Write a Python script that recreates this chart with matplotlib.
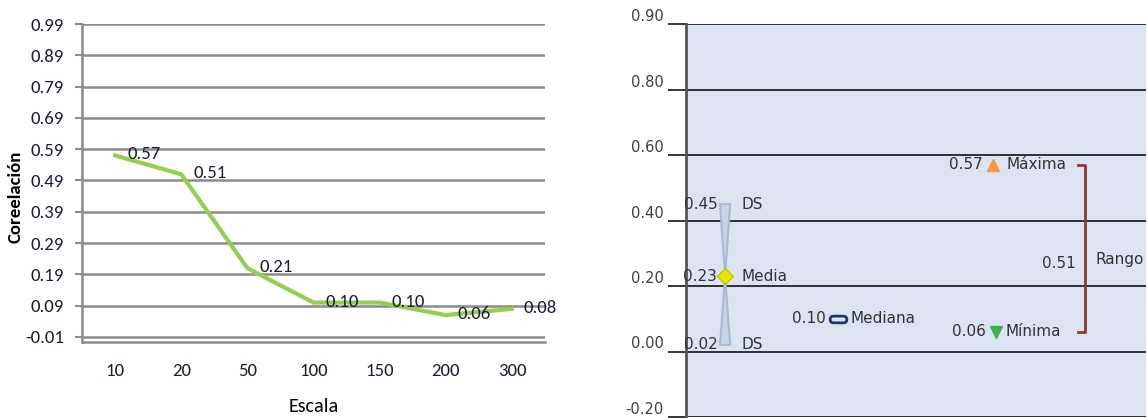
import numpy as np
import matplotlib.pyplot as plt
from matplotlib.patches import FancyBboxPatch, Polygon
from matplotlib.transforms import offset_copy
from matplotlib import font_manager

# Data
escala = ["10", "20", "50", "100", "150", "200", "300"]
correlacion = [0.57, 0.51, 0.21, 0.10, 0.10, 0.06, 0.08]
left_ticks = [-0.01, 0.09, 0.19, 0.29, 0.39, 0.49, 0.59, 0.69, 0.79, 0.89, 0.99]

ds_alta = 0.45
media = 0.23
ds_baja = 0.02
mediana = 0.10
maxima = 0.57
minima = 0.06
rango = 0.51
right_ticks = [-0.2, 0.0, 0.2, 0.4, 0.6, 0.8, 1.0]
right_labels = ["-0.20", "0.00", "0.20", "0.40", "0.60", "0.80", "0.90"]

# Calibri-like narrow font if there is one
installed = set(f.name for f in font_manager.fontManager.ttflist)
narrow = [f for f in ["Carlito", "Liberation Sans Narrow", "Roboto Condensed",
                      "Open Sans Condensed", "DejaVu Sans"] if f in installed] + ["DejaVu Sans"]
txt_dark = "#1c1c30"
lfs = 13.5

fig = plt.figure(figsize=(11.48, 4.18), dpi=100)

################# Left chart ######################################
ax1 = fig.add_axes([82/1148, 76/418, 463/1148, 318/418])
x = np.arange(len(escala))
ax1.plot(x, correlacion, color="#92d050", lw=3, solid_joinstyle="miter")
for xi, v in zip(x, correlacion):
    ax1.text(xi, v, "%.2f" % v, transform=offset_copy(ax1.transData, fig, 12, 1, units="dots"),
             ha="left", va="center", fontsize=lfs, family=narrow, color=txt_dark)

ax1.set_xlim(-0.5, len(escala) - 0.5)
ax1.set_ylim(-0.026, 0.99)
ax1.set_yticks(left_ticks)
ax1.set_yticklabels(["%.2f" % t for t in left_ticks], family=narrow, fontsize=lfs, color=txt_dark)
ax1.set_xticks(x)
ax1.set_xticklabels(escala, family=narrow, fontsize=lfs, color=txt_dark)
ax1.grid(axis="y", color="#8c8c8c", lw=1.8)
ax1.set_axisbelow(True)
ax1.tick_params(axis="y", length=5, width=1.5, color="#8c8c8c", pad=8)
ax1.tick_params(axis="x", length=0, pad=15)
for s in ["top", "right"]:
    ax1.spines[s].set_visible(False)
ax1.spines["left"].set_color("#8c8c8c")
ax1.spines["left"].set_linewidth(1.8)
ax1.spines["bottom"].set_color("#8c8c8c")
ax1.spines["bottom"].set_linewidth(1.8)
ax1.set_ylabel("Coreelación", family=narrow, fontsize=13.5, fontweight="bold", color="black")
ax1.yaxis.set_label_coords(-0.125, 0.455)
ax1.set_xlabel("Escala", family=narrow, fontsize=14.5, color="black")
ax1.xaxis.set_label_coords(0.5, -0.175)

################# Right chart ######################################
ax2 = fig.add_axes([686/1148, 1/418, 460/1148, 393/418])
ax2.set_facecolor("#dbe4f0")
ax2.set_xlim(0, 1)
ax2.set_ylim(-0.2, 1.0)
ax2.set_yticks(right_ticks)
ax2.set_yticklabels(right_labels, fontsize=10.5, color="#404040", va="bottom")
ax2.set_xticks([])
ax2.grid(axis="y", color="black", lw=1.1)
ax2.set_axisbelow(True)
ax2.tick_params(axis="y", length=13, width=1.1, color="black", pad=3)
for s in ["top", "right", "bottom"]:
    ax2.spines[s].set_visible(False)
ax2.spines["left"].set_color("#555555")
ax2.spines["left"].set_linewidth(2)

fs = 11
tc = "#333333"

# DS hourglass + Media
xd, w = 0.085, 0.011
ax2.add_patch(Polygon([(xd - w, ds_alta), (xd + w, ds_alta), (xd, media),
                       (xd + w, ds_baja), (xd - w, ds_baja), (xd, media)],
                      closed=True, facecolor="#c9d5e6", edgecolor="#a7b9d3", lw=1.5, zorder=3))
ax2.plot(xd, media, marker="D", ms=8, color="#e6e600", mec="#c8c800", zorder=4)
for v, name in [(ds_alta, "DS"), (media, "Media"), (ds_baja, "DS")]:
    ax2.text(xd - 0.017, v, "%.2f" % v, ha="right", va="center", fontsize=fs, color=tc)
    ax2.text(xd + 0.035, v, name, ha="left", va="center", fontsize=fs, color=tc)

# Mediana
xm = 0.33
rr = FancyBboxPatch((-1, -0.4), 2, 0.8, boxstyle="round,pad=0,rounding_size=0.4").get_path()
ax2.plot(xm, mediana, marker=rr, ms=12, mfc="#dbe4f0", mec="#1f3864", mew=2, zorder=4)
ax2.text(xm - 0.027, mediana, "%.2f" % mediana, ha="right", va="center", fontsize=fs, color=tc)
ax2.text(xm + 0.028, mediana, "Mediana", ha="left", va="center", fontsize=fs, color=tc)

# Maxima / Minima
xa = 0.667
ax2.plot(xa, maxima, marker="^", ms=9, color="#f79646", zorder=4)
ax2.text(xa - 0.022, maxima, "%.2f" % maxima, ha="right", va="center", fontsize=fs, color=tc)
ax2.text(xa + 0.03, maxima, "Máxima", ha="left", va="center", fontsize=fs, color=tc)
ax2.plot(xa + 0.006, minima, marker="v", ms=9, color="#3cb44b", zorder=4)
ax2.text(xa - 0.015, minima, "%.2f" % minima, ha="right", va="center", fontsize=fs, color=tc)
ax2.text(xa + 0.028, minima, "Mínima", ha="left", va="center", fontsize=fs, color=tc)

# Rango bracket
xr, tw = 0.867, 0.014
ax2.plot([xr - tw, xr, xr, xr - tw], [maxima, maxima, minima, minima], color="#943634", lw=2, zorder=4)
mid = (maxima + minima) / 2
ax2.text(xr - 0.02, mid - 0.045, "%.2f" % rango, ha="right", va="center", fontsize=fs, color=tc)
ax2.text(xr + 0.024, mid - 0.035, "Rango", ha="left", va="center", fontsize=fs, color=tc)

plt.savefig("out.png", dpi=100)
